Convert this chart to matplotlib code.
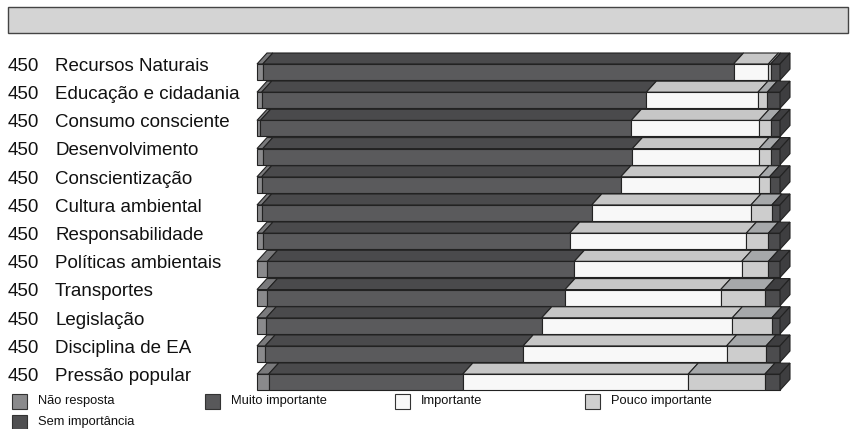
import matplotlib.pyplot as plt
from matplotlib.patches import Rectangle, Polygon
from matplotlib.transforms import blended_transform_factory
import numpy as np

# respondents per theme and answer counts
themes = ['Recursos Naturais', 'Educação e cidadania', 'Consumo consciente',
          'Desenvolvimento', 'Conscientização', 'Cultura ambiental',
          'Responsabilidade', 'Políticas ambientais', 'Transportes',
          'Legislação', 'Disciplina de EA', 'Pressão popular']
totals = [450] * 12
nao_resposta = [5, 4, 3, 5, 4, 4, 5, 9, 9, 8, 7, 10]
muito_importante = [405, 331, 319, 318, 309, 284, 264, 264, 256, 237, 222, 167]
importante = [30, 96, 110, 109, 119, 137, 152, 144, 134, 164, 175, 194]
pouco_importante = [2, 8, 10, 10, 9, 18, 19, 23, 38, 34, 34, 66]
sem_importancia = [8, 11, 8, 8, 9, 7, 10, 10, 13, 7, 12, 13]

categories = ['Não resposta', 'Muito importante', 'Importante',
              'Pouco importante', 'Sem importância']
series = [nao_resposta, muito_importante, importante, pouco_importante, sem_importancia]

# front / top face colours for each answer
front_cols = ['#8a8a8c', '#5a5a5c', '#f8f8f8', '#cdcdcd', '#4c4c4e']
top_cols = ['#7a7a7c', '#4a4a4c', '#c6c6c6', '#a6a8aa', '#3e3e40']
legend_cols = ['#8a8a8c', '#58585a', '#f8f8f8', '#cfcfcf', '#505052']
edge = '#222222'

W, H = 855, 429
fig = plt.figure(figsize=(W / 100, H / 100), dpi=100)
plt.rcParams['font.family'] = ['Liberation Sans', 'DejaVu Sans']

# axes mapped so that 0..450 spans the bar area
y_top, y_bot = 38.2, 399.1
ax = fig.add_axes([257 / W, 1 - y_bot / H, 523 / W, (y_bot - y_top) / H])
ax.set_xlim(0, 450)
ax.set_ylim(11.6, -1.2)
ax.axis('off')

h = 0.57     # front face height (rows)
dy = 0.39    # depth in rows
dx = 8.6     # depth in counts

for i, name in enumerate(themes):
    top = i - h / 2
    bot = i + h / 2
    left = 0
    vals = [s[i] for s in series]
    for k, v in enumerate(vals):
        ax.add_patch(Polygon([(left, top), (left + v, top), (left + v + dx, top - dy),
                              (left + dx, top - dy)], closed=True,
                             facecolor=top_cols[k], edgecolor=edge, lw=0.8, clip_on=False))
        ax.add_patch(Rectangle((left, top), v, h, facecolor=front_cols[k],
                               edgecolor=edge, lw=0.8, clip_on=False))
        left += v
    # right side face of the bar
    ax.add_patch(Polygon([(left, top), (left + dx, top - dy), (left + dx, bot - dy),
                          (left, bot)], closed=True, facecolor=top_cols[-1],
                         edgecolor=edge, lw=0.8, clip_on=False))

# row labels
tr = blended_transform_factory(fig.transFigure, ax.transData)
for i, name in enumerate(themes):
    ax.text(8 / W, i - 0.2, str(totals[i]), transform=tr, ha='left', va='center',
            fontsize=13.5, color='#111111')
    ax.text(55 / W, i - 0.2, name, transform=tr, ha='left', va='center',
            fontsize=13.5, color='#111111')

# title box
fig.patches.append(Rectangle((8 / W, 1 - 33 / H), 840 / W, 26 / H,
                             transform=fig.transFigure, facecolor='#d4d4d4',
                             edgecolor='#444444', lw=1))

# legend
leg_pos = [(12, 401), (205, 401), (395, 401), (585, 401), (12, 422)]
for (lx, ly), lab, c in zip(leg_pos, categories, legend_cols):
    fig.patches.append(Rectangle((lx / W, 1 - (ly + 7.5) / H), 15 / W, 15 / H,
                                 transform=fig.transFigure, facecolor=c,
                                 edgecolor='#333333', lw=0.8))
    fig.text((lx + 26) / W, 1 - ly / H, lab, ha='left', va='center',
             fontsize=9.3, color='#111111')

fig.savefig('out.png', dpi=100)
